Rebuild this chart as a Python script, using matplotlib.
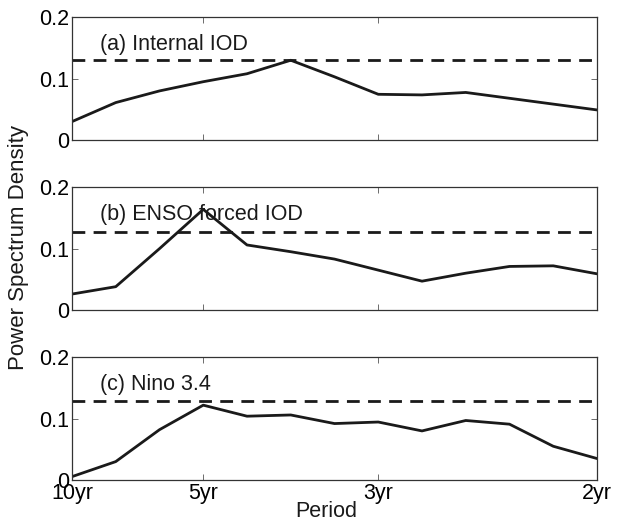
import matplotlib
matplotlib.use('Agg')
import matplotlib.pyplot as plt
import numpy as np

plt.rcParams['font.family'] = ['Liberation Sans', 'DejaVu Sans']
plt.rcParams['font.size'] = 15.5

# frequency (cycles/yr) of the spectral estimates, 10yr ... 2yr
freq = np.arange(3, 16) / 30.0

psd_internal = [0.030, 0.061, 0.080, 0.095, 0.108, 0.130, 0.103,
                0.0745, 0.0735, 0.0775, 0.068, 0.0585, 0.049]
psd_enso_iod = [0.026, 0.038, 0.100, 0.164, 0.106, 0.095, 0.083,
                0.065, 0.047, 0.060, 0.071, 0.072, 0.059]
psd_nino34 = [0.0055, 0.030, 0.082, 0.122, 0.104, 0.106, 0.092,
              0.0945, 0.080, 0.097, 0.091, 0.055, 0.035]

sig_levels = [0.130, 0.1265, 0.129]
panel_names = ['(a) Internal IOD', '(b) ENSO forced IOD', '(c) Nino 3.4']

tick_freq = [1 / 10, 1 / 5, 1 / 3, 1 / 2]
tick_names = ['10yr', '5yr', '3yr', '2yr']

fig = plt.figure(figsize=(6.17, 5.30), dpi=100)
left, width = 72 / 617, 525 / 617
tops = [17.3, 187.3, 357.3]
h = 122.7

series = [psd_internal, psd_enso_iod, psd_nino34]
for i in range(3):
    bottom = 1 - (tops[i] + h) / 530
    ax = fig.add_axes([left, bottom, width, h / 530])
    ax.plot(freq, series[i], color='#1a1a1a', lw=2)
    # 95% significance level
    ax.axhline(sig_levels[i], color='#1a1a1a', lw=2, ls=(0, (4.6, 3)))
    ax.set_xlim(0.1, 0.5)
    ax.set_ylim(0, 0.2)
    ax.set_yticks([0, 0.1, 0.2])
    ax.set_yticklabels(['0', '0.1', '0.2'])
    ax.set_xticks(tick_freq)
    if i == 2:
        ax.set_xticklabels(tick_names)
    else:
        ax.set_xticklabels([])
    ax.tick_params(direction='in', top=True, right=True, length=4,
                   width=0.6, color='#555555', pad=2)
    for s in ax.spines.values():
        s.set_linewidth(0.9)
        s.set_color('#333333')
    ax.text(0.053, 0.733, panel_names[i], transform=ax.transAxes,
            color='#1a1a1a')

fig.text(19 / 617, 1 - 247.5 / 530, 'Power Spectrum Density', rotation=90,
         ha='center', va='center', fontsize=16, color='#1a1a1a')
fig.text(326 / 617, 1 - 517 / 530, 'Period', ha='center', va='baseline',
         color='#1a1a1a')

fig.savefig('out.png', dpi=100)
